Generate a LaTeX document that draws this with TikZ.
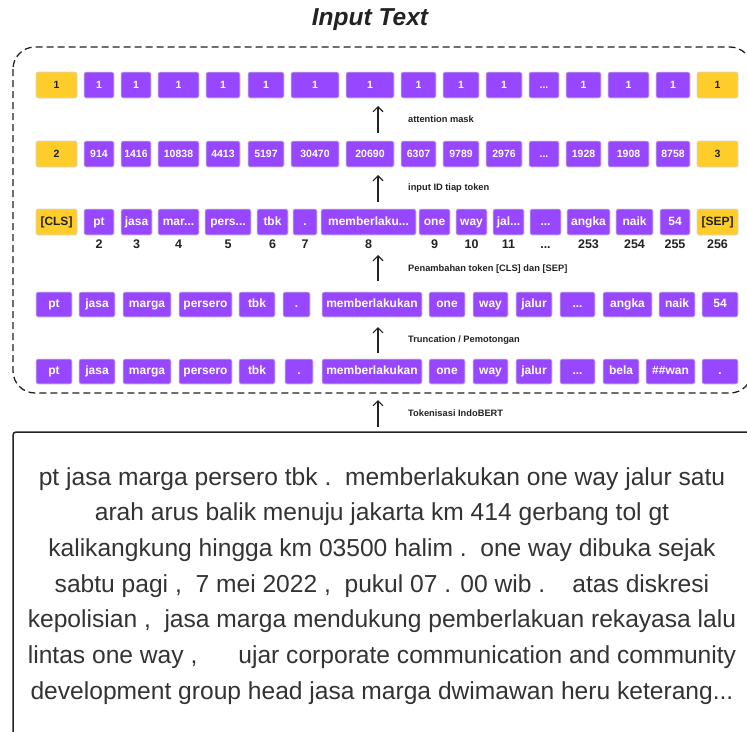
\documentclass[tikz,border=0pt]{standalone}
\usepackage{fontspec}
\setmainfont{Liberation Sans}
\usetikzlibrary{arrows.meta}
\definecolor{tokpurple}{HTML}{9747FF}
\definecolor{tokyellow}{HTML}{FFCD29}
\definecolor{inkdark}{HTML}{222222}
\definecolor{bodytext}{HTML}{333333}

% three full stops, kept out of \foreach lists where they mean a range
\newcommand{\tdots}{...}

% one row of token boxes: prefix, centre y, height, extra style, list left/right/text/style
\newcommand{\tokenrow}[5]{%
  \foreach \xa/\xb/\txt/\sty [count=\i] in {#5} {%
    \node[\sty, #4, minimum width={\xb-\xa}, minimum height=#3]
      (#1-\i) at ({(\xa+\xb)/2},#2) {\txt};
  }%
}

\begin{document}
\begin{tikzpicture}[x=1pt,y=-1pt,
  tok/.style={rounded corners=2pt, draw=black!16, line width=0.6pt, inner sep=0pt},
  pbox/.style={tok, fill=tokpurple, text=white},
  ybox/.style={tok, fill=tokyellow, text=inkdark},
  wordrow/.style={font=\bfseries\fontsize{12}{13}\selectfont, text height=8.7pt, text depth=2.5pt},
  numrow/.style={font=\bfseries\fontsize{10.5}{11}\selectfont, text height=10pt, text depth=2.5pt},
  idx/.style={font=\bfseries\fontsize{12.5}{13}\selectfont, text=inkdark, inner sep=0pt,
    text height=9pt, text depth=0pt},
  steplabel/.style={anchor=west, inner sep=0pt, text=inkdark, font=\bfseries\fontsize{9.3}{10}\selectfont},
  uparrow/.style={draw=inkdark, line width=1.1pt, -{Straight Barb[length=5pt,width=10pt,line width=1.1pt]}},
  bodyline/.style={anchor=base, inner sep=0pt, text=bodytext, font=\fontsize{24.6}{28}\selectfont},
]
\useasboundingbox (0,0) rectangle (747,731);
\clip (0,0) rectangle (747,731);

% title
\node[font=\bfseries\itshape\fontsize{24.5}{27}\selectfont, text=inkdark] (title) at (370,20) {Input Text};

% dashed frame around the tokenisation steps
\draw[draw=inkdark, line width=1.3pt, dash pattern=on 7pt off 4pt, rounded corners=22pt]
  (13,47) rectangle (752,393);

% attention mask
\tokenrow{am}{85}{26}{numrow}{%
  36/77/1/ybox, 84/114/1/pbox, 121/151/1/pbox, 158/199/1/pbox, 206/240/1/pbox,
  248/284/1/pbox, 291/339/1/pbox, 346/394/1/pbox, 401/436/1/pbox, 443/479/1/pbox,
  486/522/1/pbox, 529/559/\tdots/pbox, 566/601/1/pbox, 608/649/1/pbox, 656/690/1/pbox,
  697/738/1/ybox}

% input ids
\tokenrow{id}{154}{26}{numrow}{%
  36/77/2/ybox, 84/114/914/pbox, 121/151/1416/pbox, 158/199/10838/pbox, 206/240/4413/pbox,
  248/284/5197/pbox, 291/339/30470/pbox, 346/394/20690/pbox, 401/436/6307/pbox, 443/479/9789/pbox,
  486/522/2976/pbox, 529/559/\tdots/pbox, 566/601/1928/pbox, 608/649/1908/pbox, 656/690/8758/pbox,
  697/738/3/ybox}

% tokens with [CLS] and [SEP]
\tokenrow{sp}{222}{26}{wordrow}{%
  36/77/[CLS]/ybox, 84/114/pt/pbox, 121/152/jasa/pbox, 158/199/mar\tdots/pbox, 205/251/pers\tdots/pbox,
  257/288/tbk/pbox, 293/317/./pbox, 321/416/memberlaku\tdots/pbox, 419/450/one/pbox, 456/487/way/pbox,
  493/524/jal\tdots/pbox, 530/561/\tdots/pbox, 567/610/angka/pbox, 616/653/naik/pbox, 660/690/54/pbox,
  697/738/[SEP]/ybox}

% positions under the tokens
\foreach \n/\v in {2/2, 3/3, 4/4, 5/5, 6/6, 7/7, 8/8, 9/9, 10/10, 11/11, 12/\tdots,
  13/253, 14/254, 15/255, 16/256} {
  \node[idx] (pos-\n) at (sp-\n.center |- 0,244) {\v};
}

% truncated tokens
\tokenrow{tr}{304.5}{25}{wordrow}{%
  36/72/pt/pbox, 79/115/jasa/pbox, 123/171/marga/pbox, 179/232/persero/pbox, 239/275/tbk/pbox,
  283/310/./pbox, 322/422/memberlakukan/pbox, 429/465/one/pbox, 473/508/way/pbox, 516/552/jalur/pbox,
  560/595/\tdots/pbox, 603/652/angka/pbox, 659/695/naik/pbox, 702/738/54/pbox}

% raw IndoBERT tokens
\tokenrow{tk}{371.5}{25}{wordrow}{%
  36/72/pt/pbox, 79/115/jasa/pbox, 123/171/marga/pbox, 179/232/persero/pbox, 239/275/tbk/pbox,
  285/313/./pbox, 322/422/memberlakukan/pbox, 429/465/one/pbox, 473/508/way/pbox, 516/552/jalur/pbox,
  560/595/\tdots/pbox, 603/639/bela/pbox, 646/695/\#\#wan/pbox, 702/738/./pbox}

% step arrows and their labels
\coordinate (a1s) at (378,133); \coordinate (a1e) at (378,106);
\coordinate (a2s) at (378,202); \coordinate (a2e) at (378,175);
\coordinate (a3s) at (378,281); \coordinate (a3e) at (378,255);
\coordinate (a4s) at (378,353); \coordinate (a4e) at (378,327);
\coordinate (a5s) at (378,427); \coordinate (a5e) at (378,400);
\draw[uparrow] (a1s) -- (a1e);
\draw[uparrow] (a2s) -- (a2e);
\draw[uparrow] (a3s) -- (a3e);
\draw[uparrow] (a4s) -- (a4e);
\draw[uparrow] (a5s) -- (a5e);
\node[steplabel] (lab1) at (408,119) {attention mask};
\node[steplabel] (lab2) at (408,188) {input ID tiap token};
\node[steplabel] (lab3) at (408,269) {Penambahan token [CLS] dan [SEP]};
\node[steplabel] (lab4) at (408,340) {Truncation / Pemotongan};
\node[steplabel] (lab5) at (408,413) {Tokenisasi IndoBERT};

% source text panel
\draw[draw=inkdark, line width=1.5pt, rounded corners=3pt] (13,432) rectangle (780,790);
\node[bodyline] (txt1) at (382,485.0) {pt jasa marga persero tbk .\ \ memberlakukan one way jalur satu};
\node[bodyline] (txt2) at (382,520.7) {arah arus balik menuju jakarta km 414 gerbang tol gt};
\node[bodyline] (txt3) at (382,556.4) {kalikangkung hingga km 03500 halim .\ \ one way dibuka sejak};
\node[bodyline] (txt4) at (382,592.1) {sabtu pagi ,\ \ 7 mei 2022 ,\ \ pukul 07 . 00 wib .\ \ \ \ atas diskresi};
\node[bodyline] (txt5) at (382,627.8) {kepolisian ,\ \ jasa marga mendukung pemberlakuan rekayasa lalu};
\node[bodyline] (txt6) at (382,663.5) {lintas one way ,\ \ \ \ \ \ ujar corporate communication and community};
\node[bodyline] (txt7) at (382,699.2) {development group head jasa marga dwimawan heru keterang\tdots};
\end{tikzpicture}
\end{document}
